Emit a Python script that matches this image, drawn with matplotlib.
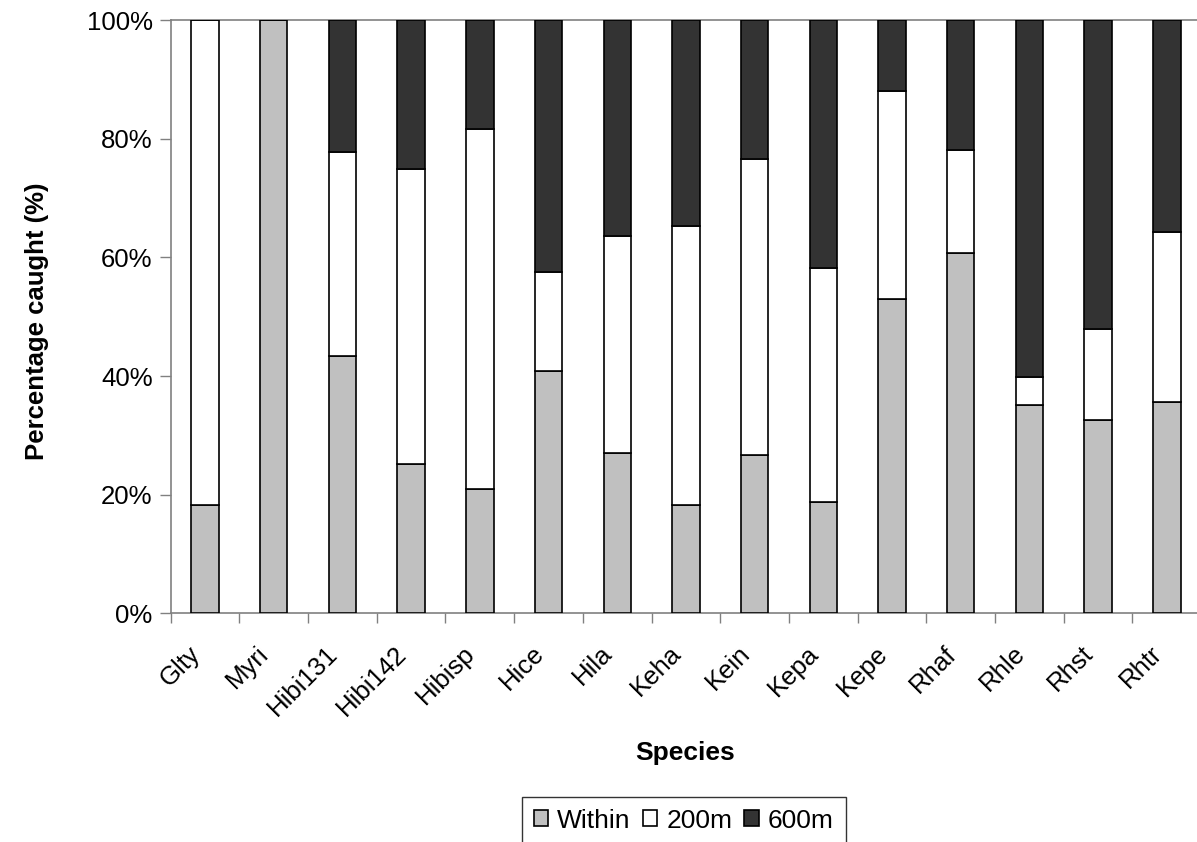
import numpy as np
import matplotlib
matplotlib.use("Agg")
import matplotlib.pyplot as plt
from matplotlib.ticker import FuncFormatter
from matplotlib.transforms import ScaledTranslation

# species and share of catch (%) per distance class
species = ["Glty", "Myri", "Hibi131", "Hibi142", "Hibisp", "Hice", "Hila", "Keha",
           "Kein", "Kepa", "Kepe", "Rhaf", "Rhle", "Rhst", "Rhtr"]
within = [18.3, 100.0, 43.4, 25.1, 20.9, 40.8, 27.0, 18.3, 26.7, 18.7, 53.0, 60.8, 35.1, 32.5, 35.7]
m200 = [81.7, 0.0, 34.4, 49.8, 60.8, 16.8, 36.6, 46.9, 49.8, 39.5, 35.1, 17.3, 4.8, 15.4, 28.6]
m600 = [0.0, 0.0, 22.2, 25.1, 18.3, 42.4, 36.4, 34.8, 23.5, 41.8, 11.9, 21.9, 60.1, 52.1, 35.7]

series_names = ["Within", "200m", "600m"]
series_colors = ["#c0c0c0", "#ffffff", "#333333"]

plt.rcParams["font.family"] = ["Liberation Sans", "DejaVu Sans"]

fig = plt.figure(figsize=(11.97, 8.42), dpi=100)
ax = fig.add_axes([0.1426, 0.2716, 0.8609, 0.7046])

x = np.arange(len(species))
bottom = np.zeros(len(species))
for vals, name, col in zip([within, m200, m600], series_names, series_colors):
    vals = np.array(vals)
    ax.bar(x, vals, width=0.4, bottom=bottom, color=col, edgecolor="black",
           linewidth=1.2, label=name, zorder=3)
    bottom += vals

ax.set_xlim(-0.5, len(species) - 0.5)
ax.set_ylim(0, 100)

# y axis
ax.set_yticks(np.arange(0, 101, 20))
ax.yaxis.set_major_formatter(FuncFormatter(lambda v, p: f"{v:.0f}%"))
ax.tick_params(axis="y", labelsize=18.5, length=8, width=1, color="#808080", pad=5)

# x axis: ticks between categories, labels under bars
ax.set_xticks(np.arange(len(species) + 1) - 0.5)
ax.set_xticklabels([])
ax.set_xticks(x, minor=True)
ax.set_xticklabels(species, minor=True, rotation=45, ha="right",
                   rotation_mode="anchor", fontsize=18.5)
ax.tick_params(axis="x", which="major", length=7, width=1, color="#808080")
ax.tick_params(axis="x", which="minor", length=0, pad=16)

# nudge the slanted labels so they end just short of the bar centre
shift = ScaledTranslation(-0.17, -0.06, fig.dpi_scale_trans)
for lbl in ax.get_xticklabels(minor=True):
    lbl.set_transform(lbl.get_transform() + shift)

for side in ["left", "bottom", "top", "right"]:
    ax.spines[side].set_color("#808080")
    ax.spines[side].set_linewidth(1.2)

fig.text(0.0307, 0.618, "Percentage caught (%)", rotation=90, ha="center", va="center",
         fontsize=18.5, fontweight="bold")
fig.text(0.5725, 0.106, "Species", ha="center", va="center",
         fontsize=19, fontweight="bold")

leg = fig.legend(loc="upper center", bbox_to_anchor=(0.5712, 0.0538), ncol=3,
                 frameon=True, fancybox=False, edgecolor="black",
                 prop={"size": 19}, borderaxespad=0,
                 handlelength=0.55, handleheight=0.55, handletextpad=0.35,
                 columnspacing=0.45, borderpad=0.45)
leg.get_frame().set_linewidth(1.0)

fig.savefig("out.png", dpi=100, facecolor="white")
